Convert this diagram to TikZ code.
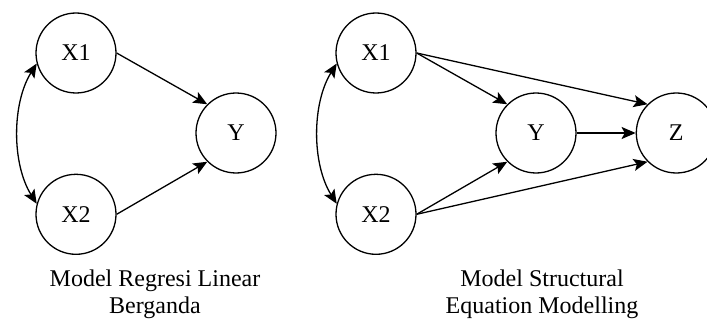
\documentclass[tikz,border=0pt]{standalone}
\usepackage{fontspec}
\setmainfont{Liberation Serif}
\usetikzlibrary{arrows.meta, positioning}

\begin{document}
\begin{tikzpicture}[
      x=1pt, y=1pt,
      font=\fontsize{24}{27}\selectfont,
      var/.style={draw, circle, minimum size=80pt, inner sep=0pt, line width=1.3pt},
      arr/.style={-{Stealth[length=14pt, width=12pt, inset=3pt]}, line width=1.3pt},
      biarr/.style={{Stealth[length=14pt, width=12pt, inset=3pt]}-{Stealth[length=14pt, width=12pt, inset=3pt]}, line width=1.3pt},
      caption/.style={align=center, inner sep=0pt, anchor=north, font=\fontsize{24}{27}\selectfont},
    ]
    \useasboundingbox (0,0) rectangle (707,322);

    % regresi linear berganda
    \node[var] (x1a) at (76,269) {X1};
    \node[var, below=80pt of x1a] (x2a) {X2};
    \node[var] (ya) at (236,189) {Y};
    \node[caption] (capa) at (155,52) {Model Regresi Linear\\Berganda};

    \draw[arr] (x1a.east) -- (ya.135);
    \draw[arr] (x2a.east) -- (ya.225);
    \draw[biarr] (x1a.195) .. controls +(-25,-40) and +(-25,40) .. (x2a.165);

    % structural equation modelling
    \node[var] (x1b) at (376,269) {X1};
    \node[var, below=80pt of x1b] (x2b) {X2};
    \node[var] (yb) at (536,189) {Y};
    \node[var, right=59pt of yb] (zb) {Z};
    \node[caption] (capb) at (542,52) {Model Structural\\Equation Modelling};

    \draw[arr] (x1b.east) -- (yb.135);
    \draw[arr] (x2b.east) -- (yb.225);
    \draw[arr] (x1b.east) -- (zb.135);
    \draw[arr] (x2b.east) -- (zb.225);
    \draw[arr] (yb) -- (zb);
    \draw[biarr] (x1b.195) .. controls +(-25,-40) and +(-25,40) .. (x2b.165);

  \end{tikzpicture}
\end{document}
